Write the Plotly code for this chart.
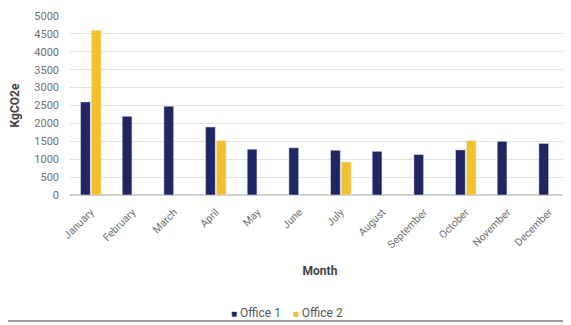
import plotly.graph_objects as go

months = ["January", "February", "March", "April", "May", "June", "July",
          "August", "September", "October", "November", "December"]
office1 = [2600, 2200, 2480, 1900, 1280, 1320, 1250, 1220, 1130, 1260, 1500, 1440]
office2 = [4600, None, None, 1520, None, None, 920, None, None, 1520, None, None]
yticks = [0, 500, 1000, 1500, 2000, 2500, 3000, 3500, 4000, 4500, 5000]
c1, c2 = "#1f2660", "#f2c12e"

fig = go.Figure()
fig.add_trace(go.Bar(x=months, y=office1, name="Office 1", marker_color=c1))
fig.add_trace(go.Bar(x=months, y=office2, name="Office 2", marker_color=c2))

fig.update_layout(
    width=563, height=317,
    margin=dict(l=62, r=1, t=8, b=130),
    paper_bgcolor="white", plot_bgcolor="white",
    font=dict(family="Roboto", size=11, color="#707070"),
    barmode="group", bargap=0.48, bargroupgap=0.1,
    showlegend=False,
    xaxis=dict(tickangle=-45, showgrid=False, showline=False, ticks="", automargin=False,
               tickfont=dict(size=10.5), ticklabelstandoff=8,
               title=dict(text="<b>Month</b>", font=dict(size=12, color="#444444"), standoff=16)),
    yaxis=dict(range=[0, 5000], tickvals=yticks, gridcolor="#e2e2e2", zeroline=True,
               zerolinecolor="#d0d0d0", ticks="", ticklabelstandoff=10, automargin=False,
               title=dict(text="<b>KgCO2e</b>", font=dict(size=12, color="#444444"), standoff=16)),
    annotations=[dict(
        xref="paper", yref="paper", x=0.434, y=-0.66, xanchor="center", yanchor="middle",
        showarrow=False, font=dict(size=12, color="#555555"),
        text=(f"<span style='color:{c1};font-size:10px'>■</span> Office 1    "
              f"<span style='color:{c2};font-size:10px'>■</span> Office 2"))],
    shapes=[dict(type="line", xref="paper", yref="paper", x0=-0.2, x1=1.1, y0=-0.704, y1=-0.704,
                 line=dict(color="#999999", width=2))],
)
fig.write_html("out.html")
